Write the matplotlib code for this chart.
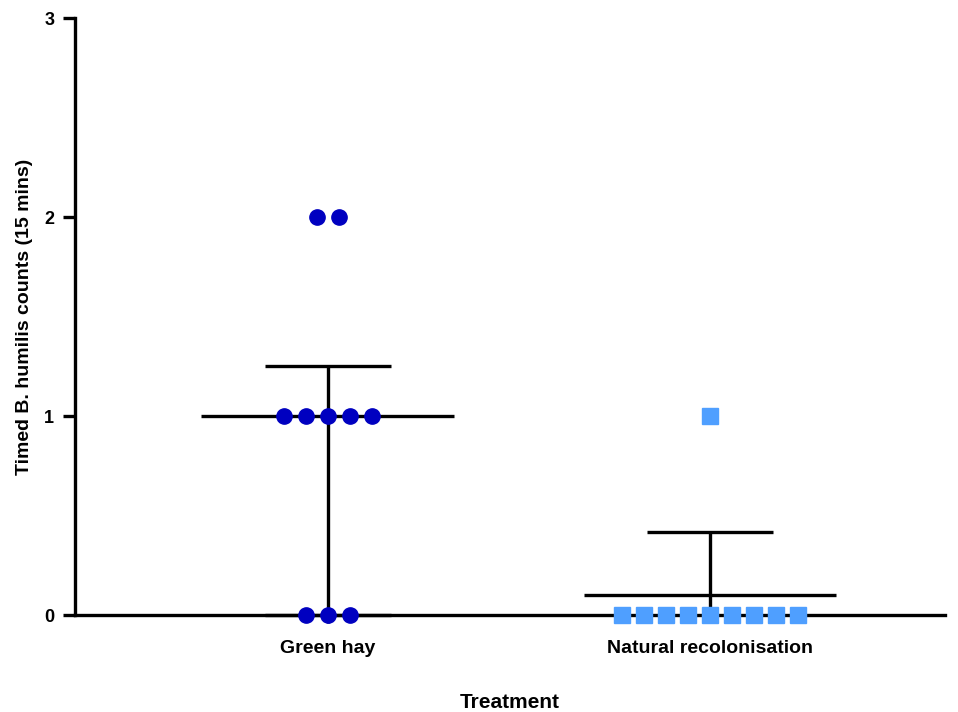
import numpy as np
import matplotlib.pyplot as plt

plt.rcParams['font.family'] = ['Liberation Sans', 'DejaVu Sans']
plt.rcParams['font.weight'] = 'bold'

# dados: contagens por tratamento
categorias = ["Green hay", "Natural recolonisation"]
green_hay = [0, 0, 0, 1, 1, 1, 1, 1, 2, 2]
natural = [0, 0, 0, 0, 0, 0, 0, 0, 0, 1]

# green hay: mediana com intervalo interquartil
gh_centro = np.median(green_hay)
gh_baixo, gh_cima = np.percentile(green_hay, [25, 75], method='weibull')
# natural: media +/- desvio padrao (cortado em zero)
nr_centro = np.mean(natural)
nr_sd = np.std(natural, ddof=1)
nr_baixo, nr_cima = max(nr_centro - nr_sd, 0), nr_centro + nr_sd

centros = [gh_centro, nr_centro]
baixos = [gh_baixo, nr_baixo]
cimas = [gh_cima, nr_cima]

fig = plt.figure(figsize=(9.58, 7.12), dpi=100)
ax = fig.add_axes([0.0783, 0.1362, 0.9081, 0.8385])

def espalha(valores, passo=0.0576):
    # desloca pontos repetidos lado a lado
    valores = np.array(valores)
    xs = np.zeros(len(valores))
    for v in np.unique(valores):
        idx = np.where(valores == v)[0]
        n = len(idx)
        xs[idx] = (np.arange(n) - (n - 1) / 2) * passo
    return xs

lw = 2.4
for i in range(2):
    ax.hlines(centros[i], i - 0.331, i + 0.331, color='black', lw=lw, zorder=2)
    ax.vlines(i, baixos[i], cimas[i], color='black', lw=lw, zorder=2, clip_on=False)
    ax.hlines(cimas[i], i - 0.165, i + 0.165, color='black', lw=lw, zorder=2)
    if baixos[i] > 0 or i == 0:
        ax.hlines(baixos[i], i - 0.165, i + 0.165, color='black', lw=lw, zorder=2, clip_on=False)

ax.plot(0 + espalha(green_hay), green_hay, 'o', color='#0000C0', ms=11,
        mec='#0000C0', zorder=3, clip_on=False)
ax.plot(1 + espalha(natural), natural, 's', color='#4F9FFF', ms=11,
        mec='#4F9FFF', zorder=3, clip_on=False)

ax.set_xlim(-0.662, 1.615)
ax.set_ylim(0, 3)
ax.set_yticks([0, 1, 2, 3])
ax.set_xticks([0, 1])
ax.set_xticklabels(categorias, fontsize=14, fontweight='bold')
ax.tick_params(axis='y', labelsize=13, width=2.4, length=9, pad=6)
ax.tick_params(axis='x', width=2.4, length=6, pad=12)
for s in ['top', 'right']:
    ax.spines[s].set_visible(False)
for s in ['left', 'bottom']:
    ax.spines[s].set_linewidth(2.4)

ax.set_xlabel("Treatment", fontsize=15, fontweight='bold', labelpad=26)
ax.set_ylabel("Timed B. humilis counts (15 mins)", fontsize=14, fontweight='bold')
ax.yaxis.set_label_coords(-0.048, 0.5)

plt.savefig("out.png", dpi=100)
